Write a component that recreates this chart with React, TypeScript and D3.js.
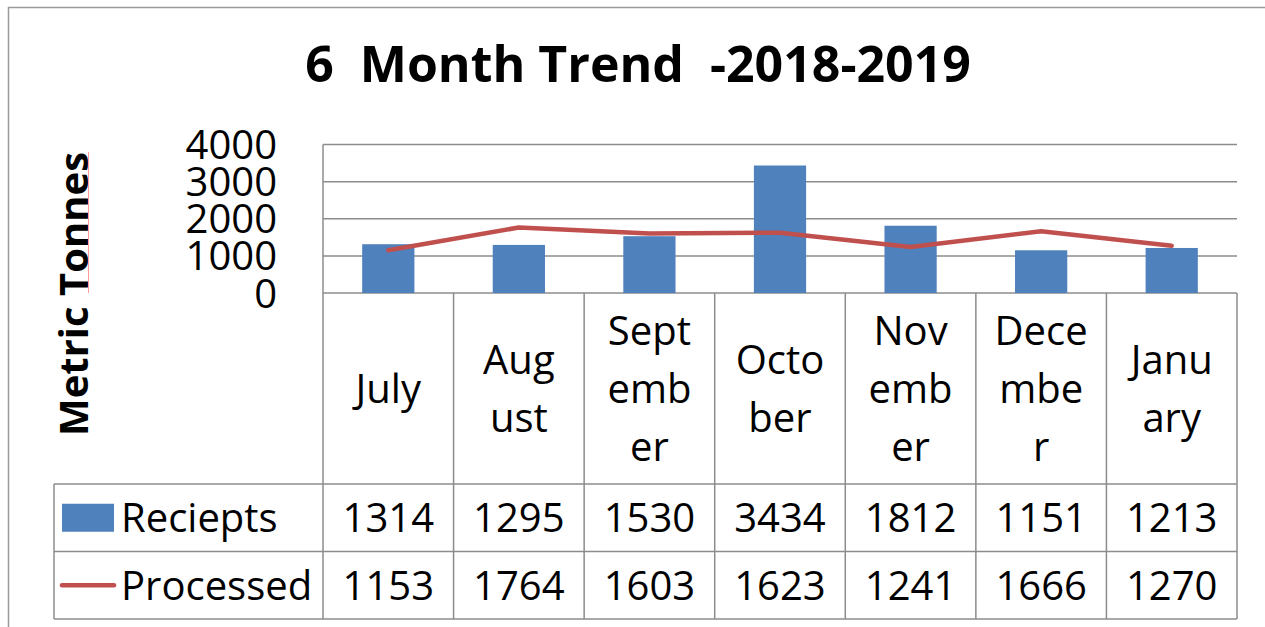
import React from "react";
import * as d3 from "d3";

const months = ["July", "August", "September", "October", "November", "December", "January"];
const monthLines = [["July"], ["Aug", "ust"], ["Sept", "emb", "er"], ["Octo", "ber"], ["Nov", "emb", "er"], ["Dece", "mbe", "r"], ["Janu", "ary"]];
const receipts = [1314, 1295, 1530, 3434, 1812, 1151, 1213];
const processed = [1153, 1764, 1603, 1623, 1241, 1666, 1270];
const yTicks = [0, 1000, 2000, 3000, 4000];
const seriesNames = ["Reciepts", "Processed"];
const title = "6  Month Trend  -2018-2019";
const yTitle = "Metric Tonnes";

const W = 1265, H = 627;
const plotLeft = 323, plotRight = 1237, plotTop = 144.5, plotBottom = 293;
const catBottom = 484, row1Bottom = 551.5, row2Bottom = 619;
const legendLeft = 54;
const FONT = "'Open Sans', 'Noto Sans', sans-serif";
const BLUE = "#4F81BD", RED = "#C0504D", GRID = "#8C8C8C";

export default function App() {
  const x = d3.scaleBand<string>().domain(months).range([plotLeft, plotRight]).padding(0);
  const y = d3.scaleLinear().domain([0, 4000]).range([plotBottom, plotTop]);
  const bw = x.bandwidth();
  const barW = bw * 0.4;
  const line = d3.line<number>()
    .x((_, i) => (x(months[i]) as number) + bw / 2)
    .y((d) => y(d));
  const lineH = 58;
  const catMid = (plotBottom + catBottom) / 2;
  const r1Mid = (catBottom + row1Bottom) / 2;
  const r2Mid = (row1Bottom + row2Bottom) / 2;
  const capOff = 14.5;

  return (
    <svg width={W} height={H} style={{ position: "absolute", left: 0, top: 0, background: "#fff" }} fontFamily={FONT}>
      {/* outer frame */}
      <rect x={8.5} y={7.5} width={W + 20} height={H + 20} fill="#fff" stroke="#9a9a9a" strokeWidth={1.5} />
      {/* title */}
      <text x={638} y={82} textAnchor="middle" fontSize={50} fontWeight="bold" style={{ whiteSpace: "pre" }}>{title}</text>
      {/* y-axis title */}
      <text transform={`translate(88, 294) rotate(-90)`} textAnchor="middle" fontSize={40} fontWeight="bold">{yTitle}</text>
      <line x1={88.5} x2={88.5} y1={152} y2={293} stroke="#ff9c9c" strokeWidth={1} />
      {/* gridlines */}
      {yTicks.map((t) => (
        <line key={"g" + t} x1={plotLeft} x2={plotRight} y1={y(t)} y2={y(t)} stroke={GRID} strokeWidth={1.5} />
      ))}
      {/* tick labels */}
      {yTicks.map((t) => (
        <text key={"t" + t} x={277} y={y(t) + capOff} textAnchor="end" fontSize={40}>{t}</text>
      ))}
      {/* bars */}
      {receipts.map((v, i) => (
        <rect key={"b" + i} x={(x(months[i]) as number) + (bw - barW) / 2} y={y(v)} width={barW} height={y(0) - y(v)} fill={BLUE} />
      ))}
      {/* line */}
      <path d={line(processed) || ""} fill="none" stroke={RED} strokeWidth={4.5} strokeLinecap="round" strokeLinejoin="round" />
      {/* table lines */}
      <line x1={plotLeft} x2={plotLeft} y1={plotTop} y2={row2Bottom} stroke={GRID} strokeWidth={1.5} />
      {months.map((m, i) => (
        <line key={"v" + i} x1={(x(m) as number) + bw} x2={(x(m) as number) + bw} y1={plotBottom} y2={row2Bottom} stroke={GRID} strokeWidth={1.5} />
      ))}
      {[catBottom, row1Bottom, row2Bottom].map((yy, i) => (
        <line key={"h" + i} x1={legendLeft} x2={plotRight} y1={yy} y2={yy} stroke={GRID} strokeWidth={1.5} />
      ))}
      <line x1={legendLeft} x2={legendLeft} y1={catBottom} y2={row2Bottom} stroke={GRID} strokeWidth={1.5} />
      {/* category labels */}
      {monthLines.map((lines, i) => {
        const cx = (x(months[i]) as number) + bw / 2;
        const first = catMid - ((lines.length - 1) * lineH) / 2 + capOff;
        return (
          <text key={"c" + i} x={cx} textAnchor="middle" fontSize={40}>
            {lines.map((l, j) => (
              <tspan key={j} x={cx} y={first + j * lineH}>{l}</tspan>
            ))}
          </text>
        );
      })}
      {/* legend */}
      <rect x={62} y={r1Mid - 14} width={52} height={28} fill={BLUE} />
      <line x1={62} x2={114} y1={r2Mid} y2={r2Mid} stroke={RED} strokeWidth={4.5} strokeLinecap="round" />
      <text x={121} y={r1Mid + capOff} fontSize={40}>{seriesNames[0]}</text>
      <text x={121} y={r2Mid + capOff} fontSize={40}>{seriesNames[1]}</text>
      {/* values */}
      {receipts.map((v, i) => (
        <text key={"r" + i} x={(x(months[i]) as number) + bw / 2} y={r1Mid + capOff} textAnchor="middle" fontSize={40}>{v}</text>
      ))}
      {processed.map((v, i) => (
        <text key={"p" + i} x={(x(months[i]) as number) + bw / 2} y={r2Mid + capOff} textAnchor="middle" fontSize={40}>{v}</text>
      ))}
    </svg>
  );
}
